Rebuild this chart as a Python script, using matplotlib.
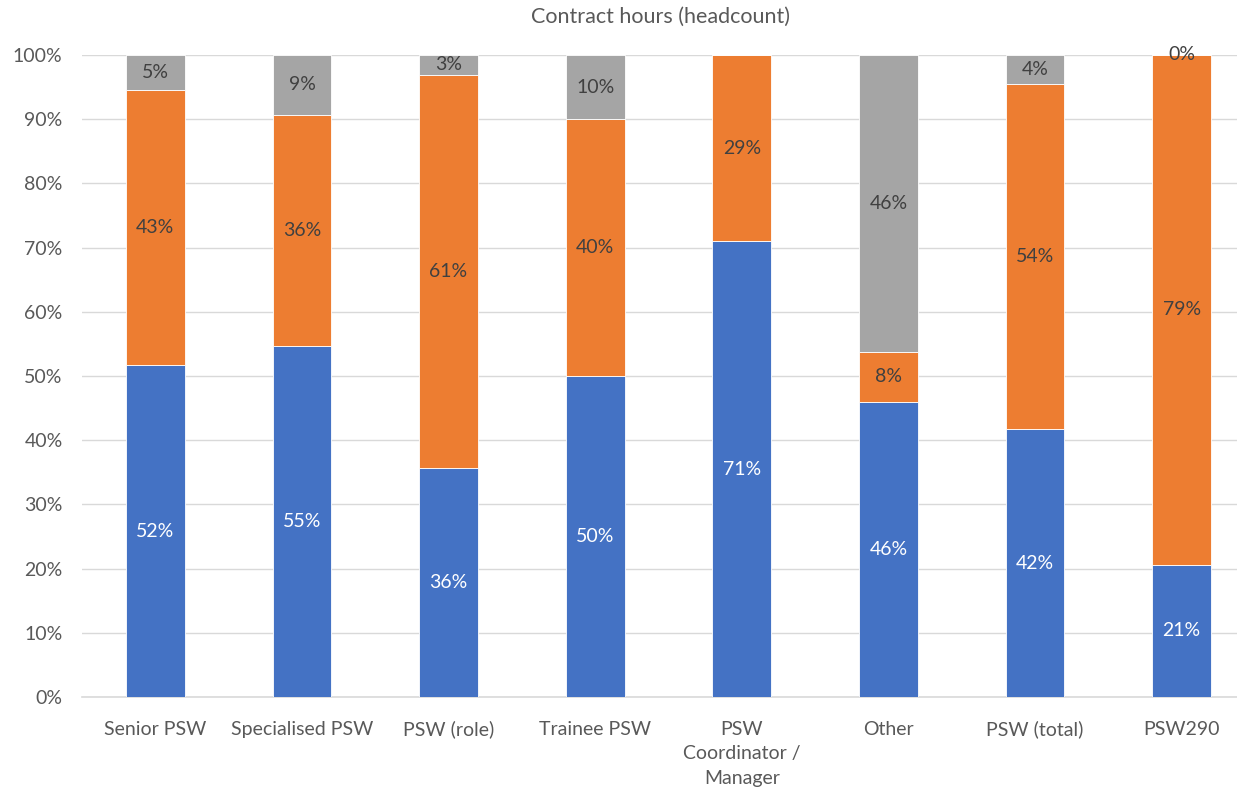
import matplotlib
matplotlib.use("Agg")
import matplotlib.pyplot as plt
import numpy as np

categories = ["Senior PSW", "Specialised PSW", "PSW (role)", "Trainee PSW",
              "PSW\nCoordinator /\nManager", "Other", "PSW (total)", "PSW290"]
series_blue = [51.7, 54.6, 35.7, 50.0, 71.0, 46.0, 41.7, 20.6]
series_orange = [42.9, 36.1, 61.2, 40.0, 29.0, 7.7, 53.8, 79.4]
series_gray = [5.4, 9.3, 3.1, 10.0, np.nan, 46.3, 4.5, 0.0]
yticks = [0, 10, 20, 30, 40, 50, 60, 70, 80, 90, 100]
title = "Contract hours (headcount)"

plt.rcParams['font.family'] = ['Lato', 'DejaVu Sans']

fig = plt.figure(figsize=(12.37, 7.88), dpi=100)
W, H = 1237, 788
ax = fig.add_axes([82 / W, 1 - 697 / H, (1255 - 82) / W, (697 - 55) / H])

x = np.arange(len(categories))
width = 0.4
blue = np.array(series_blue)
orange = np.array(series_orange)
gray = np.array(series_gray)

cols = ['#4472C4', '#ED7D31', '#A5A5A5']
ax.bar(x, blue, width, color=cols[0], edgecolor='white', linewidth=0.6, zorder=3)
ax.bar(x, orange, width, bottom=blue, color=cols[1], edgecolor='white', linewidth=0.6, zorder=3)
gvals = np.nan_to_num(gray)
ax.bar(x, gvals, width, bottom=blue + orange, color=cols[2], edgecolor='white', linewidth=0.6, zorder=3)

fs = 14
for i in range(len(x)):
    ax.text(x[i], blue[i] / 2, f"{blue[i]:.0f}%", ha='center', va='center', color='white', fontsize=fs, zorder=4)
    ax.text(x[i], blue[i] + orange[i] / 2, f"{orange[i]:.0f}%", ha='center', va='center', color='#404040', fontsize=fs, zorder=4)
    if not np.isnan(gray[i]):
        ax.text(x[i], blue[i] + orange[i] + gray[i] / 2, f"{gray[i]:.0f}%", ha='center', va='center', color='#404040', fontsize=fs, zorder=4)

ax.set_xlim(-0.5, len(categories) - 0.5)
ax.set_ylim(0, 100)
ax.set_yticks(yticks)
ax.set_yticklabels([f"{v}%" for v in yticks])
ax.set_xticks(x)
ax.set_xticklabels(categories, linespacing=1.55)
ax.tick_params(axis='both', length=0, colors='#595959', labelsize=fs)
ax.tick_params(axis='x', pad=17)
ax.tick_params(axis='y', pad=14)
ax.yaxis.grid(True, color='#D9D9D9', linewidth=1, zorder=0)
for s in ['top', 'right', 'left']:
    ax.spines[s].set_visible(False)
ax.spines['bottom'].set_color('#D9D9D9')
ax.spines['bottom'].set_linewidth(1.2)
ax.set_axisbelow(True)

fig.text(660 / W, 1 - 17 / H, title, ha='center', va='center', fontsize=15.5, color='#595959')

fig.savefig("out.png", dpi=100)
